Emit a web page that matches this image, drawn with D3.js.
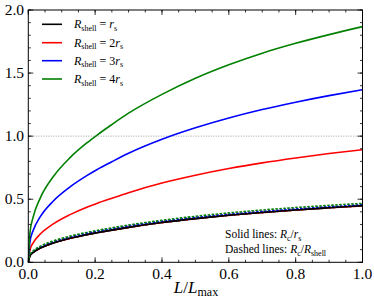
<!DOCTYPE html>
<html><head><meta charset="utf-8">
<script src="https://cdn.jsdelivr.net/npm/d3@7"></script>
<style>body{margin:0;background:#fff}svg{display:block}text{font-family:"Liberation Serif",serif}</style>
</head><body><svg id="c" width="374" height="299"></svg>
<script>
const L = [0,0.005,0.015,0.035,0.075,0.125,0.175,0.205,0.25,0.3,0.4,0.5,0.6,0.7,0.8,0.9,1.0];
const shellBlack = [0,0.05,0.078,0.111,0.153,0.19,0.219,0.234,0.255,0.277,0.315,0.346,0.373,0.395,0.415,0.432,0.448];
const shellRed   = [0,0.099,0.156,0.222,0.305,0.378,0.437,0.467,0.508,0.552,0.628,0.690,0.743,0.788,0.827,0.862,0.893];
const shellBlue  = [0,0.164,0.255,0.358,0.486,0.598,0.687,0.734,0.797,0.864,0.975,1.066,1.144,1.211,1.269,1.321,1.368];
const shellGreen = [0,0.237,0.363,0.505,0.680,0.830,0.946,1.007,1.092,1.182,1.331,1.459,1.566,1.658,1.736,1.805,1.868];
const dashBlack = [0,0.05,0.078,0.111,0.153,0.19,0.219,0.234,0.255,0.277,0.315,0.346,0.373,0.395,0.415,0.432,0.448];
const dashRed   = [0,0.0495,0.078,0.111,0.1525,0.189,0.2185,0.2335,0.254,0.276,0.314,0.345,0.3715,0.394,0.4135,0.431,0.4465];
const dashBlue  = [0,0.0547,0.085,0.1193,0.162,0.1993,0.229,0.2447,0.2657,0.288,0.325,0.3553,0.3813,0.4037,0.423,0.4403,0.456];
const dashGreen = [0,0.0593,0.0908,0.1263,0.17,0.2075,0.2365,0.2518,0.273,0.2955,0.3328,0.3648,0.3915,0.4145,0.434,0.4513,0.467];
const legendLabels = [["", "r", "s"], ["2", "r", "s"], ["3", "r", "s"], ["4", "r", "s"]];
const colors = ["#000000", "#ff0000", "#0000ff", "#008000"];
const xTicks = [0,0.2,0.4,0.6,0.8,1.0];
const yTicks = [0,0.5,1.0,1.5,2.0];

const svg = d3.select("#c");
const x = d3.scaleLinear().domain([0,1]).range([28.3,362.5]);
const y = d3.scaleLinear().domain([0,2]).range([262.3,10]);
const g = svg.append("g");

g.append("line").attr("x1",x(0)).attr("x2",x(1)).attr("y1",y(1)).attr("y2",y(1))
 .attr("stroke","#888").attr("stroke-width",0.8).attr("stroke-dasharray","1,1.5");

const line = d3.line().x(d=>x(d[0])).y(d=>y(d[1])).curve(d3.curveMonotoneX);
const solids = [shellBlack, shellRed, shellBlue, shellGreen];
const dashes = [dashBlack, dashRed, dashBlue, dashGreen];
svg.append("clipPath").attr("id","cp").append("rect")
  .attr("x",x(0)).attr("y",y(2)).attr("width",x(1)-x(0)).attr("height",y(0)-y(2));
const lines = g.append("g").attr("clip-path","url(#cp)");
solids.forEach((s,i)=>{
  lines.append("path").datum(L.map((l,j)=>[l,s[j]])).attr("d",line)
   .attr("fill","none").attr("stroke",colors[i]).attr("stroke-width",1.6);
});
[1,2,0,3].forEach(i=>{
  const s = dashes[i];
  lines.append("path").datum(L.map((l,j)=>[l,s[j]])).attr("d",line)
   .attr("fill","none").attr("stroke",colors[i]).attr("stroke-width",1.6)
   .attr("stroke-dasharray", i===0 ? null : "2.5,1.5");
});

function ticksOn(orient){
  const isX = orient==="bottom"||orient==="top";
  const sc = isX ? x : y;
  const minor = isX ? d3.range(0,1.0001,0.05) : d3.range(0,2.0001,0.1);
  const major = isX ? xTicks : yTicks;
  const grp = g.append("g");
  function add(v, len){
    const p = sc(v);
    if(orient==="bottom") grp.append("line").attr("x1",p).attr("x2",p).attr("y1",y(0)).attr("y2",y(0)-len);
    if(orient==="top") grp.append("line").attr("x1",p).attr("x2",p).attr("y1",y(2)).attr("y2",y(2)+len);
    if(orient==="left") grp.append("line").attr("y1",p).attr("y2",p).attr("x1",x(0)).attr("x2",x(0)+len);
    if(orient==="right") grp.append("line").attr("y1",p).attr("y2",p).attr("x1",x(1)).attr("x2",x(1)-len);
  }
  minor.forEach(v=>add(v,2.5));
  major.forEach(v=>add(v,5));
  grp.selectAll("line").attr("stroke","#000").attr("stroke-width",0.8);
}
["bottom","top","left","right"].forEach(ticksOn);

g.append("rect").attr("x",x(0)).attr("y",y(2)).attr("width",x(1)-x(0)).attr("height",y(0)-y(2))
 .attr("fill","none").attr("stroke","#000").attr("stroke-width",1);

g.selectAll(".xt").data(xTicks).enter().append("text")
 .attr("x",d=>x(d)).attr("y",279).attr("text-anchor","middle").attr("font-size",15.5)
 .text(d=>d.toFixed(1));
g.selectAll(".yt").data(yTicks).enter().append("text")
 .attr("x",24).attr("y",d=>y(d)+5).attr("text-anchor","end").attr("font-size",15.5)
 .text(d=>d.toFixed(1));

const xl = g.append("text").attr("x",196).attr("y",293).attr("text-anchor","middle").attr("font-size",17);
xl.append("tspan").attr("font-style","italic").text("L");
xl.append("tspan").text("/");
xl.append("tspan").attr("font-style","italic").text("L");
xl.append("tspan").attr("font-size",12).attr("dy",3).text("max");

const ly = [24.3,42.7,60.7,79];
legendLabels.forEach((lab,i)=>{
  g.append("line").attr("x1",42).attr("x2",62).attr("y1",ly[i]).attr("y2",ly[i])
   .attr("stroke",colors[i]).attr("stroke-width",1.6);
  const t = g.append("text").attr("x",74).attr("y",ly[i]+4).attr("font-size",12);
  t.append("tspan").attr("font-style","italic").text("R");
  t.append("tspan").attr("font-size",8).attr("dy",2.5).text("shell");
  t.append("tspan").attr("dy",-2.5).text(" = "+lab[0]);
  t.append("tspan").attr("font-style","italic").text(lab[1]);
  t.append("tspan").attr("font-size",8).attr("dy",2.5).text(lab[2]);
});

const a1 = g.append("text").attr("x",225).attr("y",238).attr("font-size",11.5);
a1.append("tspan").text("Solid lines: ");
a1.append("tspan").attr("font-style","italic").text("R");
a1.append("tspan").attr("font-size",8).attr("dy",2.5).text("c");
a1.append("tspan").attr("dy",-2.5).text("/");
a1.append("tspan").attr("font-style","italic").text("r");
a1.append("tspan").attr("font-size",8).attr("dy",2.5).text("s");
const a2 = g.append("text").attr("x",225).attr("y",253).attr("font-size",11.5);
a2.append("tspan").text("Dashed lines: ");
a2.append("tspan").attr("font-style","italic").text("R");
a2.append("tspan").attr("font-size",8).attr("dy",2.5).text("c");
a2.append("tspan").attr("dy",-2.5).text("/");
a2.append("tspan").attr("font-style","italic").text("R");
a2.append("tspan").attr("font-size",8).attr("dy",2.5).text("shell");
</script></body></html>
